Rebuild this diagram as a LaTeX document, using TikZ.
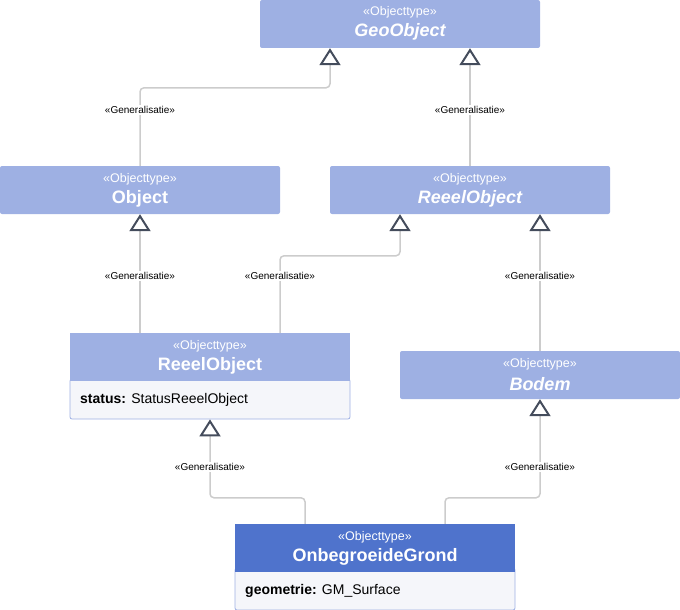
\documentclass[tikz,border=0pt]{standalone}
\usepackage{fontspec}
\setmainfont{Liberation Sans}
\usetikzlibrary{arrows.meta}
\definecolor{hdrc}{RGB}{158,176,227}
\definecolor{hdrd}{RGB}{79,115,204}
\definecolor{attrc}{RGB}{245,246,250}
\definecolor{linec}{RGB}{204,204,204}
\definecolor{tipc}{RGB}{68,76,92}
\begin{document}
\begin{tikzpicture}[x=1pt,y=-1pt,
  box/.style={fill=hdrc, draw=none, minimum width=280pt, minimum height=48pt, inner sep=0pt, rounded corners=2pt},
  boxd/.style={box, fill=hdrd},
  attrbox/.style={fill=attrc, draw=hdrc, line width=0.8pt, minimum width=280pt, inner sep=0pt, rounded corners=2pt},
  stereo/.style={text=white, font=\fontsize{12.5}{14}\selectfont, inner sep=0pt},
  cname/.style={text=white, font=\fontsize{18}{20}\selectfont\bfseries, inner sep=0pt},
  aname/.style={cname, font=\fontsize{18}{20}\selectfont\bfseries\itshape},
  attrtext/.style={anchor=west, text=black, font=\fontsize{14}{16}\selectfont, inner sep=0pt},
  gen/.style={draw=linec, line width=1.5pt, rounded corners=4pt,
    -{Triangle[open, width=21pt, length=17pt, line width=2pt, color=tipc, fill=white]}},
  lbl/.style={fill=white, text=black, font=\fontsize{10}{12}\selectfont, inner sep=1.5pt}
]
\useasboundingbox (0,0) rectangle (680,610);

% GeoObject
\node[box] (geo) at (400,24) {};
\node[stereo] (geos) at (400,12.5) {«Objecttype»};
\node[aname] (geon) at (400,32) {GeoObject};

% Object
\node[box] (obj) at (140,190) {};
\node[stereo] (objs) at (140,179.5) {«Objecttype»};
\node[cname] (objn) at (140,199) {Object};

% ReeelObject abstract
\node[box] (reo) at (470,190) {};
\node[stereo] (reos) at (470,179.5) {«Objecttype»};
\node[aname] (reon) at (470,199) {ReeelObject};

% ReeelObject concrete
\node[attrbox, minimum height=40pt] (rca) at (210,399) {};
\node[box, rounded corners=0pt] (rc) at (210,357) {};
\node[stereo] (rcs) at (210,346.5) {«Objecttype»};
\node[cname] (rcn) at (210,366) {ReeelObject};
\node[attrtext] (rct) at (80,400) {\textbf{status:} StatusReeelObject};

% Bodem
\node[box] (bod) at (540,375) {};
\node[stereo] (bods) at (540,364.5) {«Objecttype»};
\node[aname] (bodn) at (540,384) {Bodem};

% OnbegroeideGrond
\node[attrbox, minimum height=42pt] (oga) at (375,589) {};
\node[boxd, rounded corners=0pt] (og) at (375,548) {};
\node[stereo] (ogs) at (375,537.5) {«Objecttype»};
\node[cname] (ogn) at (375,557) {OnbegroeideGrond};
\node[attrtext] (ogt) at (245,591) {\textbf{geometrie:} GM\_Surface};

% connectors
\draw[gen] (obj.north) -- ++(0,-78) -| ([xshift=-70pt]geo.south);
\draw[gen] (reo.north) -- ([xshift=70pt]geo.south);
\draw[gen] ([xshift=-70pt]rc.north) -- (obj.south);
\draw[gen] ([xshift=70pt]rc.north) -- ++(0,-77) -| ([xshift=-70pt]reo.south);
\draw[gen] (bod.north) -- ([xshift=70pt]reo.south);
\draw[gen] ([xshift=-70pt]og.north) -- ++(0,-26) -| (rca.south);
\draw[gen] ([xshift=70pt]og.north) -- ++(0,-26) -| (bod.south);

% labels
\node[lbl] (l1) at (140,110) {«Generalisatie»};
\node[lbl] (l2) at (470,110) {«Generalisatie»};
\node[lbl] (l3) at (140,276) {«Generalisatie»};
\node[lbl] (l4) at (280,276) {«Generalisatie»};
\node[lbl] (l5) at (540,276) {«Generalisatie»};
\node[lbl] (l6) at (210,467) {«Generalisatie»};
\node[lbl] (l7) at (540,467) {«Generalisatie»};
\end{tikzpicture}
\end{document}
